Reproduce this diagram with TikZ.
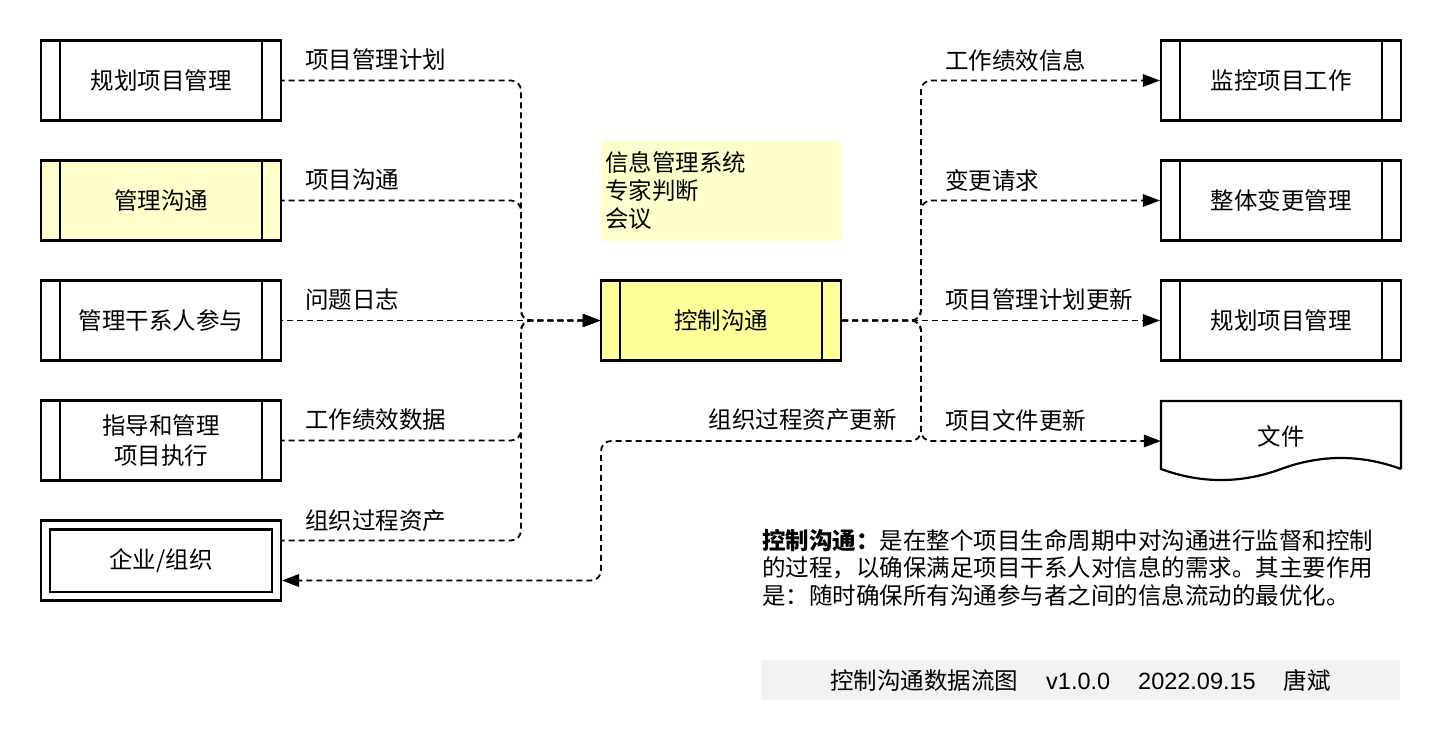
\documentclass[tikz,border=0pt]{standalone}
\usepackage{fontspec}
\setmainfont{Noto Sans CJK SC}
\newfontfamily\lat{Liberation Sans}
\usetikzlibrary{arrows.meta}
\definecolor{paleyellow}{HTML}{FFFFCC}
\definecolor{brightyellow}{HTML}{FFFF99}
\definecolor{footgray}{HTML}{F2F2F2}
\tikzset{
  every node/.style={font=\fontsize{23.5pt}{28pt}\selectfont},
  procbox/.style={draw, line width=2.2pt, minimum width=240pt, minimum height=80pt, inner sep=0pt, align=center},
  flow/.style={line width=1.8pt, dash pattern=on 6pt off 4pt, rounded corners=10pt},
  tip/.style={-{Triangle[length=17pt,width=12.5pt]}},
  rtip/.style={{Triangle[length=17pt,width=12.5pt]}-},
  lbl/.style={inner sep=0pt},
}
\begin{document}
\begin{tikzpicture}[x=1pt,y=-1pt]
\useasboundingbox (0,0) rectangle (1442,742);

% left boxes
\node[procbox] (b1) at (161,80.5) {规划项目管理};
\node[procbox, fill=paleyellow] (b2) at (161,200.5) {管理沟通};
\node[procbox] (b3) at (161,320.5) {管理干系人参与};
\node[procbox, font=\fontsize{23.5pt}{30pt}\selectfont] (b4) at (161,440.5) {指导和管理\\项目执行};
\node[procbox] (b5) at (161,560.5) {企业/组织};
\draw[line width=2.2pt] ([shift={(10pt,10pt)}]b5.south west) rectangle ([shift={(-10pt,-10pt)}]b5.north east);

% centre
\node[procbox, fill=brightyellow] (ctrl) at (721,320.5) {控制沟通};
\node[fill=paleyellow, minimum width=240pt, minimum height=100pt, text width=232pt, inner xsep=4pt, inner ysep=0pt, align=left] (tools) at (721,191) {信息管理系统\\专家判断\\会议};

% right boxes
\node[procbox] (r1) at (1281,80.5) {监控项目工作};
\node[procbox] (r2) at (1281,200.5) {整体变更管理};
\node[procbox] (r3) at (1281,320.5) {规划项目管理};
\node[minimum width=240pt, minimum height=80pt, inner sep=0pt] (doc) at (1281,441) {\raisebox{11pt}{文件}};
\draw[line width=2.2pt, line join=miter] (1401,469) -- (1401,401) -- (1161,401) -- (1161,469)
  .. controls (1201,483.7) and (1241,483.7) .. (1281,469)
  .. controls (1321,454.3) and (1361,454.3) .. (1401,469);

\foreach \n in {b1,b2,b3,b4,ctrl,r1,r2,r3}{
  \draw[line width=2.2pt] ([xshift=20pt]\n.north west) -- ([xshift=20pt]\n.south west);
  \draw[line width=2.2pt] ([xshift=-20pt]\n.north east) -- ([xshift=-20pt]\n.south east);
}

% junction coordinates
\coordinate (jl) at (521,320.5);
\coordinate (jr) at (921,320.5);
\coordinate (jo) at (601,580.5);
\coordinate (b5out) at (282,540.5);
\coordinate (b5in) at (282,580.5);

% left connectors (drawn from the control box so dashes coincide)
\draw[flow, rtip] (ctrl.west) -- (jl) -- (jl |- b1.east) -- (b1.east);
\draw[flow, rtip] (ctrl.west) -- (jl) -- (jl |- b2.east) -- (b2.east);
\draw[flow, rtip] (ctrl.west) -- (b3.east);
\draw[flow, rtip] (ctrl.west) -- (jl) -- (jl |- b4.east) -- (b4.east);
\draw[flow, rtip] (ctrl.west) -- (jl) -- (jl |- b5out) -- (b5out);

% right connectors
\draw[flow, tip] (ctrl.east) -- (jr) -- (jr |- r1.west) -- (r1.west);
\draw[flow, tip] (ctrl.east) -- (jr) -- (jr |- r2.west) -- (r2.west);
\draw[flow, tip] (ctrl.east) -- (r3.west);
\draw[flow, tip] (ctrl.east) -- (jr) -- (jr |- doc.west) -- (doc.west);
\draw[flow, tip] (ctrl.east) -- (jr) -- (jr |- doc.west) -- (jo |- doc.west) -- (jo) -- (b5in);

% labels
\node[lbl, anchor=west] (l1) at (305,60) {项目管理计划};
\node[lbl, anchor=west] (l2) at (305,180) {项目沟通};
\node[lbl, anchor=west] (l3) at (305,300) {问题日志};
\node[lbl, anchor=west] (l4) at (305,420) {工作绩效数据};
\node[lbl, anchor=west] (l5) at (305,521) {组织过程资产};
\node[lbl, anchor=east] (l6) at (897,420) {组织过程资产更新};
\node[lbl, anchor=west] (r1l) at (945,60) {工作绩效信息};
\node[lbl, anchor=west] (r2l) at (945,180) {变更请求};
\node[lbl, anchor=west] (r3l) at (945,300) {项目管理计划更新};
\node[lbl, anchor=west] (r4l) at (945,420) {项目文件更新};

% description
\node[lbl, anchor=west, align=left, font=\fontsize{23.5pt}{27.5pt}\selectfont] (desc) at (762,567.5)
  {\textbf{控制沟通：}是在整个项目生命周期中对沟通进行监督和控制\\的过程，以确保满足项目干系人对信息的需求。其主要作用\\是：随时确保所有沟通参与者之间的信息流动的最优化。};

% footer
\node[fill=footgray, minimum width=639pt, minimum height=40pt, inner sep=0pt] (foot) at (1080.5,680)
  {控制沟通数据流图\hspace{28pt}{\lat v1.0.0}\hspace{28pt}{\lat 2022.09.15}\hspace{28pt}唐斌};
\end{tikzpicture}
\end{document}
